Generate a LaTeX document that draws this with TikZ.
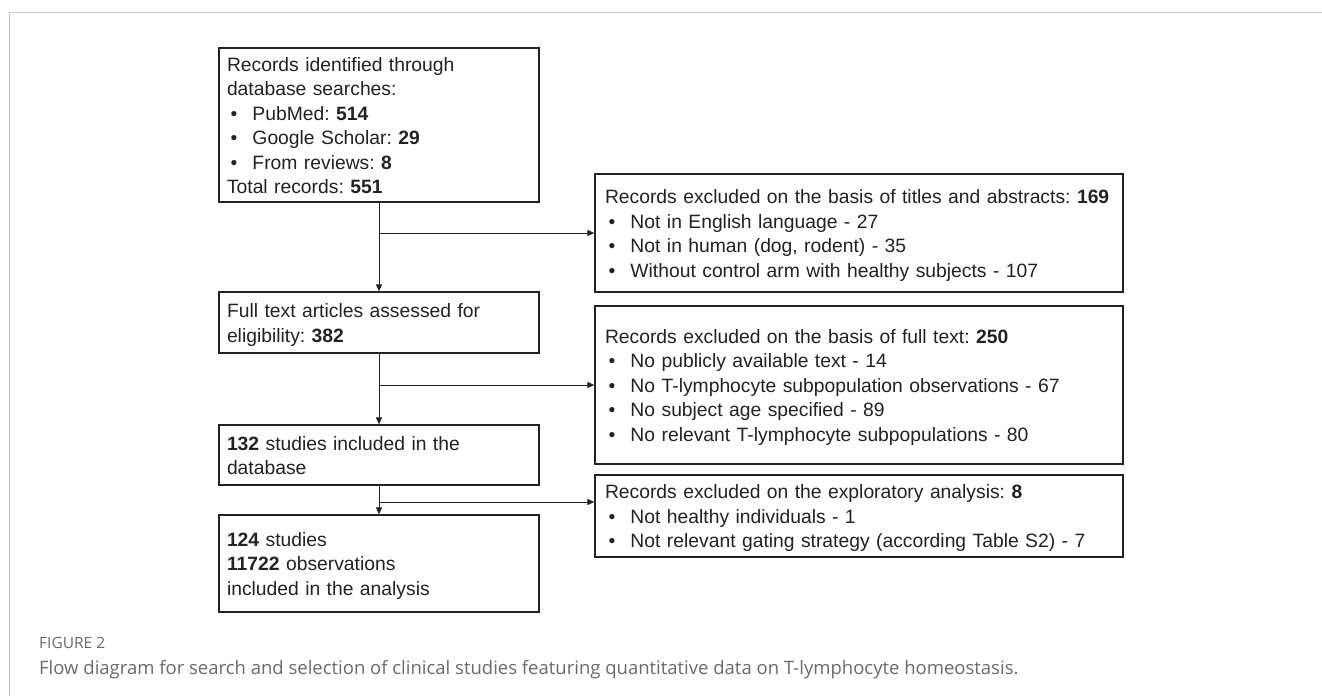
\documentclass[tikz,border=0pt]{standalone}
\usepackage{fontspec}
\setmainfont{Liberation Sans}
\newfontfamily\capfont{Open Sans}
\usetikzlibrary{arrows.meta}
\definecolor{ink}{HTML}{222222}
\definecolor{frame}{HTML}{C8C8C8}
\definecolor{capgray}{HTML}{6A6A6A}
\frenchspacing
\newcommand{\bl}[1]{\makebox[25.5pt][l]{\hspace{3.5pt}•}#1}
\newcommand{\rows}[1]{\raisebox{-2.5pt}[\height][\depth]{\begin{tabular}{@{}l@{}}#1\end{tabular}}}
\tikzset{
  boxL/.style={draw=ink, line width=1.3pt, rectangle, inner xsep=8pt, inner ysep=0pt,
    minimum width=320pt, text width=304pt, align=left, text=ink,
    font=\fontsize{19.3}{24.5}\selectfont},
  boxR/.style={draw=ink, line width=1.3pt, rectangle, inner xsep=10pt, inner ysep=0pt,
    minimum width=528pt, text width=508pt, align=left, text=ink,
    font=\fontsize{19.3}{24.5}\selectfont},
  arr/.style={draw=ink, line width=1pt, -{Triangle[length=7pt,width=6pt]}},
}
\begin{document}
\begin{tikzpicture}[x=1pt,y=-1pt]
\useasboundingbox (0,0) rectangle (1322,696);
\fill[white] (0,0) rectangle (1322,696);
\draw[frame, line width=1pt] (9,696) -- (9,12) -- (1322,12);

\node[boxL, minimum height=154pt] (b1) at (379,125) {\rows{Records identified through\\ database searches:\\ \bl{PubMed: \textbf{514}}\\ \bl{Google Scholar: \textbf{29}}\\ \bl{From reviews: \textbf{8}}\\ Total records: \textbf{551}}};
\node[boxL, minimum height=61pt] (bfull) at (379,322.5) {\rows{Full text articles assessed for\\ eligibility: \textbf{382}}};
\node[boxL, minimum height=60pt] (b132) at (379,455) {\rows{\textbf{132} studies included in the\\ database}};
\node[boxL, minimum height=97pt] (b124) at (379,563.5) {\rows{\textbf{124} studies\\ \textbf{11722} observations\\ included in the analysis}};

\node[boxR, minimum height=118pt] (b2) at (859,233) {\rows{Records excluded on the basis of titles and abstracts: \textbf{169}\\ \bl{Not in English language - 27}\\ \bl{Not in human (dog, rodent) - 35}\\ \bl{Without control arm with healthy subjects - 107}}};
\node[boxR, minimum height=158pt] (b3) at (859,385) {\rows{Records excluded on the basis of full text: \textbf{250}\\ \bl{No publicly available text - 14}\\ \bl{No T-lymphocyte subpopulation observations - 67}\\ \bl{No subject age specified - 89}\\ \bl{No relevant T-lymphocyte subpopulations - 80}}};
\node[boxR, minimum height=82pt] (b4) at (859,516) {\rows{Records excluded on the exploratory analysis: \textbf{8}\\ \bl{Not healthy individuals - 1}\\ \bl{Not relevant gating strategy (according Table S2) - 7}}};

\draw[arr] (b1.south) -- (bfull.north);
\draw[arr] (bfull.south) -- (b132.north);
\draw[arr] (b132.south) -- (b124.north);

\coordinate (j1) at (b1.south |- b2.west);
\coordinate (j2) at (b1.south |- b3.west);
\coordinate (j3) at (379,502);
\draw[arr] (j1) -- (b2.west);
\draw[arr] (j2) -- (b3.west);
\draw[arr] (j3) -- (j3 -| b4.west);

\node[anchor=west, inner sep=0pt, text=capgray, font=\capfont\fontsize{15.5}{18}\selectfont] (fig) at (39,643) {FIGURE 2};
\node[anchor=west, inner sep=0pt, text=capgray, font=\capfont\fontsize{18.5}{22}\selectfont] (cap) at (39,670) {Flow diagram for search and selection of clinical studies featuring quantitative data on T-lymphocyte homeostasis.};
\end{tikzpicture}
\end{document}
